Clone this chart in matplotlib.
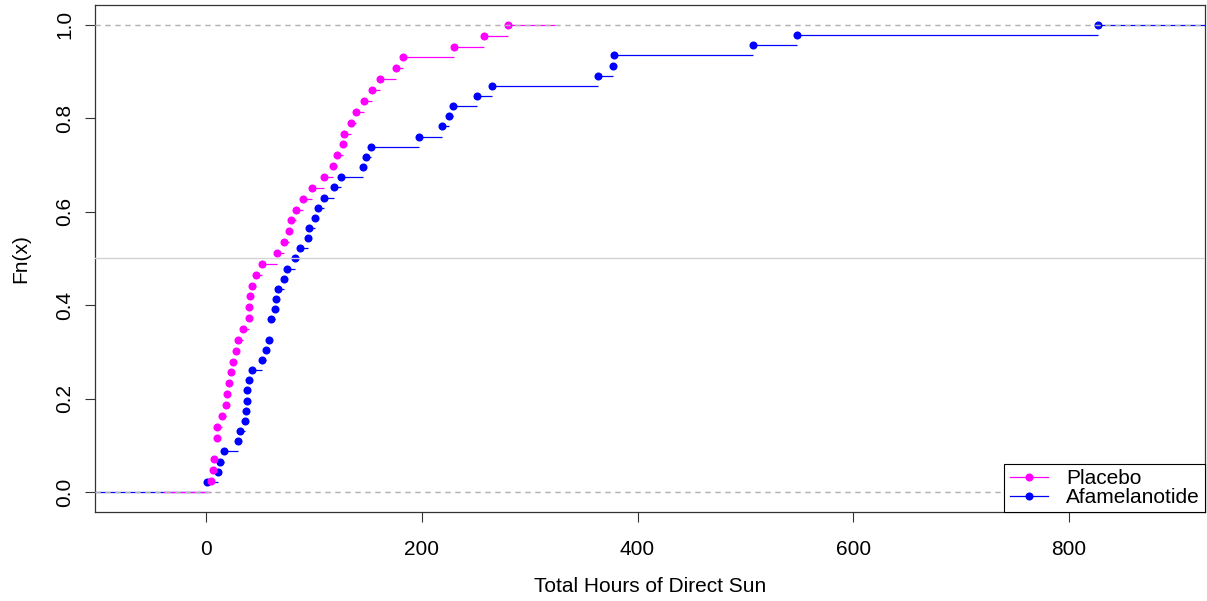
import numpy as np
import matplotlib.pyplot as plt

# ------------ Data: total hours of direct sun per patient ------------

placebo_hours = [4.5, 6.8, 7.0, 9.9, 9.9, 10.1, 15.1, 18.3, 19.2, 21.3,
                 23.2, 24.7, 27.5, 29.7, 34.0, 39.6, 40.1, 41.1, 42.4, 46.3,
                 51.9, 65.5, 72.1, 77.2, 79.1, 83.6, 89.9, 98.1, 109.4, 117.9,
                 121.6, 127.2, 128.2, 134.1, 138.8, 146.0, 154.0, 161.3, 175.8, 182.9,
                 230.1, 257.9, 279.9]

afamelanotide_hours = [1.2, 10.8, 13.0, 17.0, 29.9, 31.5, 36.1, 36.8, 37.7, 38.3,
                       39.9, 42.4, 52.2, 55.3, 58.4, 60.4, 60.4, 63.9, 64.9, 66.5,
                       72.3, 75.3, 82.5, 86.7, 94.8, 95.7, 101.3, 104.0, 109.6, 119.0,
                       124.9, 145.9, 148.0, 153.0, 197.8, 218.4, 225.4, 228.5, 251.2, 265.1,
                       363.6, 377.2, 378.1, 506.7, 547.5, 827.3]

group_names = ["Placebo", "Afamelanotide"]
group_colors = ["#FF00FF", "#0000FF"]

# ------------ ecdf helpers (same idea as R's plot.ecdf) ------------

def ecdf_steps(values):
    vals = np.sort(np.array(values, dtype=float))
    knots, counts = np.unique(vals, return_counts=True)
    heights = np.cumsum(counts) / len(vals)
    return knots, heights

def draw_ecdf(ax, values, color):
    knots, heights = ecdf_steps(values)
    rx = knots[-1] - knots[0]
    dr = max(0.08 * rx, np.median(np.diff(knots)))
    xlim = (knots[0] - dr, knots[-1] + dr)
    # horizontal pieces run past the plot range like R does
    ti = np.concatenate([[xlim[0] - dr], knots, [xlim[1] + dr]])
    yi = np.concatenate([[0.0], heights])
    ax.hlines(yi, ti[:-1], ti[1:], colors=color, linewidth=0.9, zorder=2)
    ax.plot(knots, heights, 'o', color=color, markersize=5.8,
            markeredgewidth=0, zorder=3)
    # 0 / 1 reference lines drawn on top each time
    for h in (0.0, 1.0):
        ax.axhline(h, color="#B3B3B3", linestyle=(0, (4, 4)), linewidth=0.9, zorder=4)
    return xlim

# ------------ Plot ------------

plt.rcParams['font.family'] = ['Liberation Sans', 'DejaVu Sans']

fig = plt.figure(figsize=(12.07, 6.01), dpi=100)
ax = fig.add_axes([0.0787, 0.148, 0.9195, 0.844])

# Afamelanotide sets the scale, placebo added on top
draw_ecdf(ax, afamelanotide_hours, group_colors[1])
draw_ecdf(ax, placebo_hours, group_colors[0])

ax.axhline(0.5, color="#D3D3D3", linewidth=1.0, zorder=5)

ax.set_xlim(-103, 926)
ax.set_ylim(-0.043, 1.043)

ax.set_xticks([0, 200, 400, 600, 800])
ax.set_yticks([0.0, 0.2, 0.4, 0.6, 0.8, 1.0])
ax.set_yticklabels(["0.0", "0.2", "0.4", "0.6", "0.8", "1.0"], rotation=90, va='center')
ax.tick_params(axis='both', direction='out', length=7, width=0.8, color="#333333",
               labelsize=15)
ax.tick_params(axis='x', pad=13)
ax.tick_params(axis='y', pad=8)

ax.set_xlabel("Total Hours of Direct Sun", fontsize=15, labelpad=13)
ax.set_ylabel("Fn(x)", fontsize=15, labelpad=18)

for s in ax.spines.values():
    s.set_color("#333333")
    s.set_linewidth(0.9)

# legend handles: line with a point
handles = []
for name, c in zip(group_names, group_colors):
    h, = ax.plot([], [], '-o', color=c, markersize=5.8, markeredgewidth=0,
                 linewidth=0.9, label=name)
    handles.append(h)
leg = ax.legend(handles=handles, loc='lower right', fontsize=15, frameon=True,
                fancybox=False, edgecolor='black', framealpha=1.0, borderaxespad=0,
                labelspacing=0.0, handlelength=1.85, handletextpad=0.85,
                borderpad=0.25)
leg.get_frame().set_linewidth(0.8)
leg.set_zorder(10)

fig.savefig("out.png", dpi=100)
